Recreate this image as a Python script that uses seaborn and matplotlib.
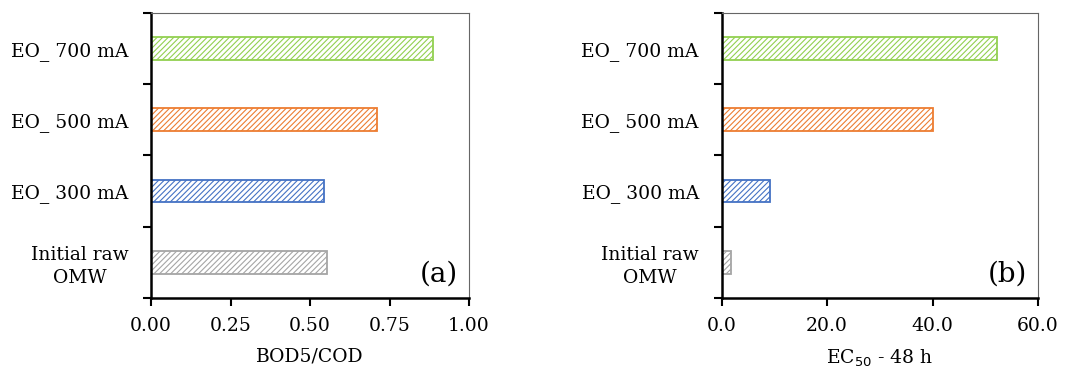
import matplotlib
matplotlib.use("Agg")
import matplotlib.pyplot as plt
import seaborn as sns
import pandas as pd

categories = ["EO_ 700 mA", "EO_ 500 mA", "EO_ 300 mA", "Initial raw\nOMW"]
bod_cod = [0.888, 0.711, 0.544, 0.553]
ec50 = [52.3, 40.0, 9.2, 1.8]
colors = ["#92D050", "#ED7D31", "#4472C4", "#A5A5A5"]
xticks_a = [0.0, 0.25, 0.5, 0.75, 1.0]
xticklabels_a = ["0.00", "0.25", "0.50", "0.75", "1.00"]
xticks_b = [0.0, 20.0, 40.0, 60.0]
xticklabels_b = ["0.0", "20.0", "40.0", "60.0"]

sns.set_theme(style="white")
plt.rcParams["font.family"] = ["DejaVu Serif"]
plt.rcParams["hatch.linewidth"] = 0.8
plt.rcParams["text.color"] = "black"
plt.rcParams["axes.labelcolor"] = "black"
plt.rcParams["xtick.color"] = "black"
plt.rcParams["ytick.color"] = "black"

fig = plt.figure(figsize=(10.82, 3.71), dpi=100)
ax1 = fig.add_axes([0.1396, 0.197, 0.2939, 0.768])
ax2 = fig.add_axes([0.667, 0.197, 0.2923, 0.768])

FS = 13.5

def draw(ax, vals, xlim, xt, xtl, xlabel, tag):
    df = pd.DataFrame({"cat": categories, "val": vals})
    sns.barplot(data=df, x="val", y="cat", hue="cat", palette=colors,
                orient="h", width=0.32, legend=False, ax=ax)
    for p, c in zip(ax.patches, colors):
        p.set_facecolor("white")
        p.set_edgecolor(c)
        p.set_hatch("//////")
        p.set_linewidth(1.3)
    ax.set_xlim(*xlim)
    ax.set_ylim(3.5, -0.5)
    ax.set_xticks(xt)
    ax.set_xticklabels(xtl, fontsize=FS)
    ax.set_yticks(range(len(categories)))
    ax.set_yticklabels(categories, fontsize=FS, ha="right", multialignment="center",
                       linespacing=1.35)
    ax.tick_params(axis="y", which="major", length=0, pad=16.5)
    ax.set_yticks([-0.5, 0.5, 1.5, 2.5, 3.5], minor=True)
    ax.tick_params(axis="y", which="minor", length=6, width=1.5, direction="out", color="black", left=True)
    ax.tick_params(axis="x", which="major", length=6, width=1.5, direction="out", color="black", bottom=True, pad=8)
    ax.set_xlabel(xlabel, fontsize=FS, labelpad=9)
    ax.set_ylabel("")
    for s in ["left", "bottom"]:
        ax.spines[s].set_color("black")
        ax.spines[s].set_linewidth(1.8)
    for s in ["top", "right"]:
        ax.spines[s].set_color("#666666")
        ax.spines[s].set_linewidth(0.8)
    ax.text(0.905, 0.085, tag, transform=ax.transAxes, fontsize=20,
            ha="center", va="center")

draw(ax1, bod_cod, (0, 1.0), xticks_a, xticklabels_a, "BOD5/COD", "(a)")
draw(ax2, ec50, (0, 60.0), xticks_b, xticklabels_b, "EC$_{50}$ - 48 h", "(b)")

fig.savefig("out.png", dpi=100)
